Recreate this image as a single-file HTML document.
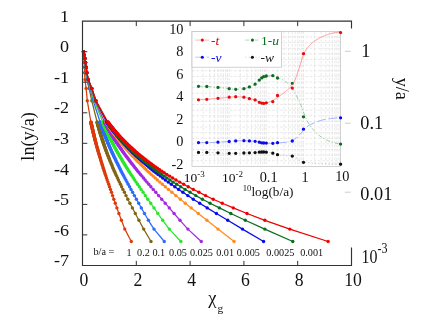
<!DOCTYPE html>
<html><head><meta charset="utf-8"><title>ln(y/a) vs chi_g</title>
<style>
html,body{margin:0;padding:0;background:#fff;}
body{width:436px;height:324px;overflow:hidden;font-family:"Liberation Serif",serif;}
svg{display:block;font-family:"Liberation Serif",serif;}
</style></head><body>
<svg width="436" height="324" viewBox="0 0 436 324">
<rect width="436" height="324" fill="#fff"/>
<g id="curves">
<path d="M83.5,51.7 L83.7,54.9 L84.0,58.5 L84.1,62.5 L84.4,67.3 L84.6,72.8 L85.0,79.6 L86.1,88.4 L87.3,100.8 L90.9,122.0 L90.9,122.3 L91.0,122.6 L91.1,122.9 L91.2,123.2 L91.2,123.6 L91.3,123.9 L91.4,124.2 L91.4,124.5 L91.5,124.9 L91.6,125.2 L91.7,125.6 L91.7,125.9 L91.8,126.2 L91.9,126.6 L92.0,127.0 L92.1,127.3 L92.1,127.7 L92.2,128.1 L92.3,128.4 L92.4,128.8 L92.5,129.2 L92.6,129.6 L92.7,130.0 L92.8,130.4 L92.8,130.8 L92.9,131.2 L93.0,131.6 L93.1,132.0 L93.2,132.5 L93.3,132.9 L93.5,133.3 L93.6,133.8 L93.7,134.2 L93.8,134.7 L93.9,135.2 L94.0,135.6 L94.1,136.1 L94.3,136.6 L94.4,137.1 L94.5,137.6 L94.6,138.1 L94.8,138.6 L94.9,139.2 L95.0,139.7 L95.2,140.3 L95.3,140.8 L95.5,141.4 L95.6,142.0 L95.8,142.6 L95.9,143.2 L96.1,143.8 L96.3,144.4 L96.5,145.1 L96.6,145.7 L96.8,146.4 L97.0,147.1 L97.2,147.8 L97.4,148.5 L97.6,149.2 L97.8,150.0 L98.0,150.8 L98.3,151.6 L98.5,152.4 L98.7,153.2 L99.0,154.1 L99.2,155.0 L99.5,155.9 L99.8,156.8 L100.1,157.8 L100.4,158.8 L100.7,159.8 L101.0,160.9 L101.4,162.0 L101.7,163.1 L102.1,164.3 L102.5,165.6 L102.9,166.9 L103.3,168.3 L103.8,169.7 L104.3,171.2 L104.8,172.7 L105.3,174.4 L105.9,176.1 L106.5,178.0 L107.2,180.0 L107.9,182.1 L108.7,184.3 L109.5,186.8 L110.5,189.4 L111.5,192.3 L112.6,195.6 L113.8,199.2 L115.3,203.2 L116.9,207.9 L118.9,213.5 L121.4,220.3 L124.8,229.1 L131.3,241.5" fill="none" stroke="#dc3c0a" stroke-width="1.25" stroke-linejoin="round"/>
<g fill="none" stroke="#dc3c0a" stroke-width="3.4" stroke-linecap="round">
<path d="M83.5,51.7h0"/><path d="M83.7,54.9h0"/><path d="M84.0,58.5h0"/><path d="M84.1,62.5h0"/><path d="M84.4,67.3h0"/><path d="M84.6,72.8h0"/><path d="M85.0,79.6h0"/><path d="M86.1,88.4h0"/><path d="M87.3,100.8h0"/><path d="M90.9,122.0h0"/><path d="M90.9,122.3h0"/><path d="M91.0,122.6h0"/><path d="M91.1,122.9h0"/><path d="M91.2,123.2h0"/><path d="M91.2,123.6h0"/><path d="M91.3,123.9h0"/><path d="M91.4,124.2h0"/><path d="M91.4,124.5h0"/><path d="M91.5,124.9h0"/><path d="M91.6,125.2h0"/><path d="M91.7,125.6h0"/><path d="M91.7,125.9h0"/><path d="M91.8,126.2h0"/><path d="M91.9,126.6h0"/><path d="M92.0,127.0h0"/><path d="M92.1,127.3h0"/><path d="M92.1,127.7h0"/><path d="M92.2,128.1h0"/><path d="M92.3,128.4h0"/><path d="M92.4,128.8h0"/><path d="M92.5,129.2h0"/><path d="M92.6,129.6h0"/><path d="M92.7,130.0h0"/><path d="M92.8,130.4h0"/><path d="M92.8,130.8h0"/><path d="M92.9,131.2h0"/><path d="M93.0,131.6h0"/><path d="M93.1,132.0h0"/><path d="M93.2,132.5h0"/><path d="M93.3,132.9h0"/><path d="M93.5,133.3h0"/><path d="M93.6,133.8h0"/><path d="M93.7,134.2h0"/><path d="M93.8,134.7h0"/><path d="M93.9,135.2h0"/><path d="M94.0,135.6h0"/><path d="M94.1,136.1h0"/><path d="M94.3,136.6h0"/><path d="M94.4,137.1h0"/><path d="M94.5,137.6h0"/><path d="M94.6,138.1h0"/><path d="M94.8,138.6h0"/><path d="M94.9,139.2h0"/><path d="M95.0,139.7h0"/><path d="M95.2,140.3h0"/><path d="M95.3,140.8h0"/><path d="M95.5,141.4h0"/><path d="M95.6,142.0h0"/><path d="M95.8,142.6h0"/><path d="M95.9,143.2h0"/><path d="M96.1,143.8h0"/><path d="M96.3,144.4h0"/><path d="M96.5,145.1h0"/><path d="M96.6,145.7h0"/><path d="M96.8,146.4h0"/><path d="M97.0,147.1h0"/><path d="M97.2,147.8h0"/><path d="M97.4,148.5h0"/><path d="M97.6,149.2h0"/><path d="M97.8,150.0h0"/><path d="M98.0,150.8h0"/><path d="M98.3,151.6h0"/><path d="M98.5,152.4h0"/><path d="M98.7,153.2h0"/><path d="M99.0,154.1h0"/><path d="M99.2,155.0h0"/><path d="M99.5,155.9h0"/><path d="M99.8,156.8h0"/><path d="M100.1,157.8h0"/><path d="M100.4,158.8h0"/><path d="M100.7,159.8h0"/><path d="M101.0,160.9h0"/><path d="M101.4,162.0h0"/><path d="M101.7,163.1h0"/><path d="M102.1,164.3h0"/><path d="M102.5,165.6h0"/><path d="M102.9,166.9h0"/><path d="M103.3,168.3h0"/><path d="M103.8,169.7h0"/><path d="M104.3,171.2h0"/><path d="M104.8,172.7h0"/><path d="M105.3,174.4h0"/><path d="M105.9,176.1h0"/><path d="M106.5,178.0h0"/><path d="M107.2,180.0h0"/><path d="M107.9,182.1h0"/><path d="M108.7,184.3h0"/><path d="M109.5,186.8h0"/><path d="M110.5,189.4h0"/><path d="M111.5,192.3h0"/><path d="M112.6,195.6h0"/><path d="M113.8,199.2h0"/><path d="M115.3,203.2h0"/><path d="M116.9,207.9h0"/><path d="M118.9,213.5h0"/><path d="M121.4,220.3h0"/><path d="M124.8,229.1h0"/><path d="M131.3,241.5h0"/>
</g>
<path d="M83.5,51.7 L84.0,54.9 L84.5,58.5 L84.9,62.5 L85.4,67.3 L85.8,72.8 L86.7,79.6 L89.1,88.4 L91.8,100.8 L97.1,122.0 L97.2,122.3 L97.3,122.6 L97.4,122.9 L97.5,123.2 L97.5,123.6 L97.6,123.9 L97.7,124.2 L97.8,124.5 L97.9,124.9 L98.0,125.2 L98.1,125.6 L98.2,125.9 L98.3,126.2 L98.4,126.6 L98.5,127.0 L98.6,127.3 L98.7,127.7 L98.8,128.1 L98.9,128.4 L99.0,128.8 L99.1,129.2 L99.2,129.6 L99.3,130.0 L99.4,130.4 L99.6,130.8 L99.7,131.2 L99.8,131.6 L99.9,132.0 L100.1,132.5 L100.2,132.9 L100.3,133.3 L100.5,133.8 L100.6,134.2 L100.7,134.7 L100.9,135.2 L101.0,135.6 L101.2,136.1 L101.3,136.6 L101.5,137.1 L101.6,137.6 L101.8,138.1 L102.0,138.6 L102.1,139.2 L102.3,139.7 L102.5,140.3 L102.7,140.8 L102.9,141.4 L103.1,142.0 L103.3,142.6 L103.5,143.2 L103.7,143.8 L103.9,144.4 L104.1,145.1 L104.3,145.7 L104.6,146.4 L104.8,147.1 L105.1,147.8 L105.3,148.5 L105.6,149.2 L105.9,150.0 L106.1,150.8 L106.4,151.6 L106.7,152.4 L107.0,153.2 L107.4,154.1 L107.7,155.0 L108.1,155.9 L108.4,156.8 L108.8,157.8 L109.2,158.8 L109.6,159.8 L110.0,160.9 L110.5,162.0 L111.0,163.1 L111.5,164.3 L112.0,165.6 L112.5,166.9 L113.1,168.3 L113.7,169.7 L114.4,171.2 L115.1,172.7 L115.8,174.4 L116.6,176.1 L117.5,178.0 L118.4,180.0 L119.4,182.1 L120.5,184.3 L121.6,186.8 L122.9,189.4 L124.4,192.3 L126.0,195.6 L127.8,199.2 L129.9,203.2 L132.4,207.9 L135.3,213.5 L138.9,220.3 L143.7,229.1 L151.0,241.5" fill="none" stroke="#836614" stroke-width="1.25" stroke-linejoin="round"/>
<g fill="none" stroke="#836614" stroke-width="3.4" stroke-linecap="round">
<path d="M83.5,51.7h0"/><path d="M84.0,54.9h0"/><path d="M84.5,58.5h0"/><path d="M84.9,62.5h0"/><path d="M85.4,67.3h0"/><path d="M85.8,72.8h0"/><path d="M86.7,79.6h0"/><path d="M89.1,88.4h0"/><path d="M91.8,100.8h0"/><path d="M97.1,122.0h0"/><path d="M97.2,122.3h0"/><path d="M97.3,122.6h0"/><path d="M97.4,122.9h0"/><path d="M97.5,123.2h0"/><path d="M97.5,123.6h0"/><path d="M97.6,123.9h0"/><path d="M97.7,124.2h0"/><path d="M97.8,124.5h0"/><path d="M97.9,124.9h0"/><path d="M98.0,125.2h0"/><path d="M98.1,125.6h0"/><path d="M98.2,125.9h0"/><path d="M98.3,126.2h0"/><path d="M98.4,126.6h0"/><path d="M98.5,127.0h0"/><path d="M98.6,127.3h0"/><path d="M98.7,127.7h0"/><path d="M98.8,128.1h0"/><path d="M98.9,128.4h0"/><path d="M99.0,128.8h0"/><path d="M99.1,129.2h0"/><path d="M99.2,129.6h0"/><path d="M99.3,130.0h0"/><path d="M99.4,130.4h0"/><path d="M99.6,130.8h0"/><path d="M99.7,131.2h0"/><path d="M99.8,131.6h0"/><path d="M99.9,132.0h0"/><path d="M100.1,132.5h0"/><path d="M100.2,132.9h0"/><path d="M100.3,133.3h0"/><path d="M100.5,133.8h0"/><path d="M100.6,134.2h0"/><path d="M100.7,134.7h0"/><path d="M100.9,135.2h0"/><path d="M101.0,135.6h0"/><path d="M101.2,136.1h0"/><path d="M101.3,136.6h0"/><path d="M101.5,137.1h0"/><path d="M101.6,137.6h0"/><path d="M101.8,138.1h0"/><path d="M102.0,138.6h0"/><path d="M102.1,139.2h0"/><path d="M102.3,139.7h0"/><path d="M102.5,140.3h0"/><path d="M102.7,140.8h0"/><path d="M102.9,141.4h0"/><path d="M103.1,142.0h0"/><path d="M103.3,142.6h0"/><path d="M103.5,143.2h0"/><path d="M103.7,143.8h0"/><path d="M103.9,144.4h0"/><path d="M104.1,145.1h0"/><path d="M104.3,145.7h0"/><path d="M104.6,146.4h0"/><path d="M104.8,147.1h0"/><path d="M105.1,147.8h0"/><path d="M105.3,148.5h0"/><path d="M105.6,149.2h0"/><path d="M105.9,150.0h0"/><path d="M106.1,150.8h0"/><path d="M106.4,151.6h0"/><path d="M106.7,152.4h0"/><path d="M107.0,153.2h0"/><path d="M107.4,154.1h0"/><path d="M107.7,155.0h0"/><path d="M108.1,155.9h0"/><path d="M108.4,156.8h0"/><path d="M108.8,157.8h0"/><path d="M109.2,158.8h0"/><path d="M109.6,159.8h0"/><path d="M110.0,160.9h0"/><path d="M110.5,162.0h0"/><path d="M111.0,163.1h0"/><path d="M111.5,164.3h0"/><path d="M112.0,165.6h0"/><path d="M112.5,166.9h0"/><path d="M113.1,168.3h0"/><path d="M113.7,169.7h0"/><path d="M114.4,171.2h0"/><path d="M115.1,172.7h0"/><path d="M115.8,174.4h0"/><path d="M116.6,176.1h0"/><path d="M117.5,178.0h0"/><path d="M118.4,180.0h0"/><path d="M119.4,182.1h0"/><path d="M120.5,184.3h0"/><path d="M121.6,186.8h0"/><path d="M122.9,189.4h0"/><path d="M124.4,192.3h0"/><path d="M126.0,195.6h0"/><path d="M127.8,199.2h0"/><path d="M129.9,203.2h0"/><path d="M132.4,207.9h0"/><path d="M135.3,213.5h0"/><path d="M138.9,220.3h0"/><path d="M143.7,229.1h0"/><path d="M151.0,241.5h0"/>
</g>
<path d="M83.5,51.7 L84.0,54.9 L84.7,58.5 L85.1,62.5 L85.7,67.3 L86.2,72.8 L87.2,79.6 L90.0,88.4 L93.2,100.8 L100.1,122.0 L100.2,122.3 L100.3,122.6 L100.4,122.9 L100.5,123.2 L100.6,123.6 L100.7,123.9 L100.8,124.2 L100.9,124.5 L101.0,124.9 L101.2,125.2 L101.3,125.6 L101.4,125.9 L101.5,126.2 L101.6,126.6 L101.8,127.0 L101.9,127.3 L102.0,127.7 L102.2,128.1 L102.3,128.4 L102.4,128.8 L102.6,129.2 L102.7,129.6 L102.9,130.0 L103.0,130.4 L103.2,130.8 L103.3,131.2 L103.5,131.6 L103.6,132.0 L103.8,132.5 L103.9,132.9 L104.1,133.3 L104.3,133.8 L104.5,134.2 L104.6,134.7 L104.8,135.2 L105.0,135.6 L105.2,136.1 L105.4,136.6 L105.6,137.1 L105.8,137.6 L106.0,138.1 L106.2,138.6 L106.4,139.2 L106.6,139.7 L106.8,140.3 L107.1,140.8 L107.3,141.4 L107.5,142.0 L107.8,142.6 L108.0,143.2 L108.3,143.8 L108.6,144.4 L108.8,145.1 L109.1,145.7 L109.4,146.4 L109.7,147.1 L110.0,147.8 L110.3,148.5 L110.7,149.2 L111.0,150.0 L111.3,150.8 L111.7,151.6 L112.1,152.4 L112.5,153.2 L112.8,154.1 L113.3,155.0 L113.7,155.9 L114.1,156.8 L114.6,157.8 L115.1,158.8 L115.6,159.8 L116.1,160.9 L116.6,162.0 L117.2,163.1 L117.8,164.3 L118.4,165.6 L119.1,166.9 L119.7,168.3 L120.5,169.7 L121.2,171.2 L122.0,172.7 L122.9,174.4 L123.8,176.1 L124.8,178.0 L125.9,180.0 L127.0,182.1 L128.2,184.3 L129.6,186.8 L131.0,189.4 L132.6,192.3 L134.4,195.6 L136.4,199.2 L138.7,203.2 L141.3,207.9 L144.5,213.5 L148.4,220.3 L154.0,229.1 L164.3,241.5" fill="none" stroke="#2a6cff" stroke-width="1.25" stroke-linejoin="round"/>
<g fill="none" stroke="#2a6cff" stroke-width="3.4" stroke-linecap="round">
<path d="M83.5,51.7h0"/><path d="M84.0,54.9h0"/><path d="M84.7,58.5h0"/><path d="M85.1,62.5h0"/><path d="M85.7,67.3h0"/><path d="M86.2,72.8h0"/><path d="M87.2,79.6h0"/><path d="M90.0,88.4h0"/><path d="M93.2,100.8h0"/><path d="M100.1,122.0h0"/><path d="M100.2,122.3h0"/><path d="M100.3,122.6h0"/><path d="M100.4,122.9h0"/><path d="M100.5,123.2h0"/><path d="M100.6,123.6h0"/><path d="M100.7,123.9h0"/><path d="M100.8,124.2h0"/><path d="M100.9,124.5h0"/><path d="M101.0,124.9h0"/><path d="M101.2,125.2h0"/><path d="M101.3,125.6h0"/><path d="M101.4,125.9h0"/><path d="M101.5,126.2h0"/><path d="M101.6,126.6h0"/><path d="M101.8,127.0h0"/><path d="M101.9,127.3h0"/><path d="M102.0,127.7h0"/><path d="M102.2,128.1h0"/><path d="M102.3,128.4h0"/><path d="M102.4,128.8h0"/><path d="M102.6,129.2h0"/><path d="M102.7,129.6h0"/><path d="M102.9,130.0h0"/><path d="M103.0,130.4h0"/><path d="M103.2,130.8h0"/><path d="M103.3,131.2h0"/><path d="M103.5,131.6h0"/><path d="M103.6,132.0h0"/><path d="M103.8,132.5h0"/><path d="M103.9,132.9h0"/><path d="M104.1,133.3h0"/><path d="M104.3,133.8h0"/><path d="M104.5,134.2h0"/><path d="M104.6,134.7h0"/><path d="M104.8,135.2h0"/><path d="M105.0,135.6h0"/><path d="M105.2,136.1h0"/><path d="M105.4,136.6h0"/><path d="M105.6,137.1h0"/><path d="M105.8,137.6h0"/><path d="M106.0,138.1h0"/><path d="M106.2,138.6h0"/><path d="M106.4,139.2h0"/><path d="M106.6,139.7h0"/><path d="M106.8,140.3h0"/><path d="M107.1,140.8h0"/><path d="M107.3,141.4h0"/><path d="M107.5,142.0h0"/><path d="M107.8,142.6h0"/><path d="M108.0,143.2h0"/><path d="M108.3,143.8h0"/><path d="M108.6,144.4h0"/><path d="M108.8,145.1h0"/><path d="M109.1,145.7h0"/><path d="M109.4,146.4h0"/><path d="M109.7,147.1h0"/><path d="M110.0,147.8h0"/><path d="M110.3,148.5h0"/><path d="M110.7,149.2h0"/><path d="M111.0,150.0h0"/><path d="M111.3,150.8h0"/><path d="M111.7,151.6h0"/><path d="M112.1,152.4h0"/><path d="M112.5,153.2h0"/><path d="M112.8,154.1h0"/><path d="M113.3,155.0h0"/><path d="M113.7,155.9h0"/><path d="M114.1,156.8h0"/><path d="M114.6,157.8h0"/><path d="M115.1,158.8h0"/><path d="M115.6,159.8h0"/><path d="M116.1,160.9h0"/><path d="M116.6,162.0h0"/><path d="M117.2,163.1h0"/><path d="M117.8,164.3h0"/><path d="M118.4,165.6h0"/><path d="M119.1,166.9h0"/><path d="M119.7,168.3h0"/><path d="M120.5,169.7h0"/><path d="M121.2,171.2h0"/><path d="M122.0,172.7h0"/><path d="M122.9,174.4h0"/><path d="M123.8,176.1h0"/><path d="M124.8,178.0h0"/><path d="M125.9,180.0h0"/><path d="M127.0,182.1h0"/><path d="M128.2,184.3h0"/><path d="M129.6,186.8h0"/><path d="M131.0,189.4h0"/><path d="M132.6,192.3h0"/><path d="M134.4,195.6h0"/><path d="M136.4,199.2h0"/><path d="M138.7,203.2h0"/><path d="M141.3,207.9h0"/><path d="M144.5,213.5h0"/><path d="M148.4,220.3h0"/><path d="M154.0,229.1h0"/><path d="M164.3,241.5h0"/>
</g>
<path d="M83.5,51.7 L84.1,54.9 L84.8,58.5 L85.3,62.5 L85.9,67.3 L86.5,72.8 L87.6,79.6 L90.7,88.4 L94.2,100.8 L102.8,122.0 L102.9,122.3 L103.0,122.6 L103.2,122.9 L103.3,123.2 L103.4,123.6 L103.6,123.9 L103.7,124.2 L103.8,124.5 L104.0,124.9 L104.1,125.2 L104.3,125.6 L104.4,125.9 L104.6,126.2 L104.7,126.6 L104.9,127.0 L105.0,127.3 L105.2,127.7 L105.4,128.1 L105.5,128.4 L105.7,128.8 L105.9,129.2 L106.0,129.6 L106.2,130.0 L106.4,130.4 L106.6,130.8 L106.8,131.2 L107.0,131.6 L107.2,132.0 L107.4,132.5 L107.6,132.9 L107.8,133.3 L108.0,133.8 L108.2,134.2 L108.4,134.7 L108.6,135.2 L108.9,135.6 L109.1,136.1 L109.3,136.6 L109.6,137.1 L109.8,137.6 L110.1,138.1 L110.3,138.6 L110.6,139.2 L110.8,139.7 L111.1,140.3 L111.4,140.8 L111.7,141.4 L112.0,142.0 L112.3,142.6 L112.6,143.2 L112.9,143.8 L113.3,144.4 L113.6,145.1 L113.9,145.7 L114.3,146.4 L114.7,147.1 L115.0,147.8 L115.4,148.5 L115.8,149.2 L116.2,150.0 L116.7,150.8 L117.1,151.6 L117.6,152.4 L118.0,153.2 L118.5,154.1 L119.0,155.0 L119.6,155.9 L120.1,156.8 L120.7,157.8 L121.3,158.8 L121.9,159.8 L122.5,160.9 L123.2,162.0 L123.9,163.1 L124.6,164.3 L125.4,165.6 L126.2,166.9 L127.1,168.3 L128.0,169.7 L128.9,171.2 L129.9,172.7 L131.0,174.4 L132.1,176.1 L133.4,178.0 L134.7,180.0 L136.1,182.1 L137.6,184.3 L139.3,186.8 L141.1,189.4 L143.1,192.3 L145.3,195.6 L147.8,199.2 L150.7,203.2 L154.0,207.9 L157.8,213.5 L162.7,220.3 L169.3,229.1 L180.9,241.5" fill="none" stroke="#28e628" stroke-width="1.25" stroke-linejoin="round"/>
<g fill="none" stroke="#28e628" stroke-width="3.4" stroke-linecap="round">
<path d="M83.5,51.7h0"/><path d="M84.1,54.9h0"/><path d="M84.8,58.5h0"/><path d="M85.3,62.5h0"/><path d="M85.9,67.3h0"/><path d="M86.5,72.8h0"/><path d="M87.6,79.6h0"/><path d="M90.7,88.4h0"/><path d="M94.2,100.8h0"/><path d="M102.8,122.0h0"/><path d="M102.9,122.3h0"/><path d="M103.0,122.6h0"/><path d="M103.2,122.9h0"/><path d="M103.3,123.2h0"/><path d="M103.4,123.6h0"/><path d="M103.6,123.9h0"/><path d="M103.7,124.2h0"/><path d="M103.8,124.5h0"/><path d="M104.0,124.9h0"/><path d="M104.1,125.2h0"/><path d="M104.3,125.6h0"/><path d="M104.4,125.9h0"/><path d="M104.6,126.2h0"/><path d="M104.7,126.6h0"/><path d="M104.9,127.0h0"/><path d="M105.0,127.3h0"/><path d="M105.2,127.7h0"/><path d="M105.4,128.1h0"/><path d="M105.5,128.4h0"/><path d="M105.7,128.8h0"/><path d="M105.9,129.2h0"/><path d="M106.0,129.6h0"/><path d="M106.2,130.0h0"/><path d="M106.4,130.4h0"/><path d="M106.6,130.8h0"/><path d="M106.8,131.2h0"/><path d="M107.0,131.6h0"/><path d="M107.2,132.0h0"/><path d="M107.4,132.5h0"/><path d="M107.6,132.9h0"/><path d="M107.8,133.3h0"/><path d="M108.0,133.8h0"/><path d="M108.2,134.2h0"/><path d="M108.4,134.7h0"/><path d="M108.6,135.2h0"/><path d="M108.9,135.6h0"/><path d="M109.1,136.1h0"/><path d="M109.3,136.6h0"/><path d="M109.6,137.1h0"/><path d="M109.8,137.6h0"/><path d="M110.1,138.1h0"/><path d="M110.3,138.6h0"/><path d="M110.6,139.2h0"/><path d="M110.8,139.7h0"/><path d="M111.1,140.3h0"/><path d="M111.4,140.8h0"/><path d="M111.7,141.4h0"/><path d="M112.0,142.0h0"/><path d="M112.3,142.6h0"/><path d="M112.6,143.2h0"/><path d="M112.9,143.8h0"/><path d="M113.3,144.4h0"/><path d="M113.6,145.1h0"/><path d="M113.9,145.7h0"/><path d="M114.3,146.4h0"/><path d="M114.7,147.1h0"/><path d="M115.0,147.8h0"/><path d="M115.4,148.5h0"/><path d="M115.8,149.2h0"/><path d="M116.2,150.0h0"/><path d="M116.7,150.8h0"/><path d="M117.1,151.6h0"/><path d="M117.6,152.4h0"/><path d="M118.0,153.2h0"/><path d="M118.5,154.1h0"/><path d="M119.0,155.0h0"/><path d="M119.6,155.9h0"/><path d="M120.1,156.8h0"/><path d="M120.7,157.8h0"/><path d="M121.3,158.8h0"/><path d="M121.9,159.8h0"/><path d="M122.5,160.9h0"/><path d="M123.2,162.0h0"/><path d="M123.9,163.1h0"/><path d="M124.6,164.3h0"/><path d="M125.4,165.6h0"/><path d="M126.2,166.9h0"/><path d="M127.1,168.3h0"/><path d="M128.0,169.7h0"/><path d="M128.9,171.2h0"/><path d="M129.9,172.7h0"/><path d="M131.0,174.4h0"/><path d="M132.1,176.1h0"/><path d="M133.4,178.0h0"/><path d="M134.7,180.0h0"/><path d="M136.1,182.1h0"/><path d="M137.6,184.3h0"/><path d="M139.3,186.8h0"/><path d="M141.1,189.4h0"/><path d="M143.1,192.3h0"/><path d="M145.3,195.6h0"/><path d="M147.8,199.2h0"/><path d="M150.7,203.2h0"/><path d="M154.0,207.9h0"/><path d="M157.8,213.5h0"/><path d="M162.7,220.3h0"/><path d="M169.3,229.1h0"/><path d="M180.9,241.5h0"/>
</g>
<path d="M83.5,51.7 L84.1,54.9 L84.9,58.5 L85.4,62.5 L86.1,67.3 L86.7,72.8 L87.9,79.6 L91.2,88.4 L95.0,100.8 L104.6,122.0 L104.8,122.3 L104.9,122.6 L105.1,122.9 L105.3,123.2 L105.4,123.6 L105.6,123.9 L105.8,124.2 L106.0,124.5 L106.1,124.9 L106.3,125.2 L106.5,125.6 L106.7,125.9 L106.9,126.2 L107.1,126.6 L107.3,127.0 L107.5,127.3 L107.7,127.7 L107.9,128.1 L108.1,128.4 L108.3,128.8 L108.5,129.2 L108.8,129.6 L109.0,130.0 L109.2,130.4 L109.4,130.8 L109.7,131.2 L109.9,131.6 L110.2,132.0 L110.4,132.5 L110.7,132.9 L110.9,133.3 L111.2,133.8 L111.5,134.2 L111.8,134.7 L112.0,135.2 L112.3,135.6 L112.6,136.1 L112.9,136.6 L113.2,137.1 L113.5,137.6 L113.9,138.1 L114.2,138.6 L114.5,139.2 L114.9,139.7 L115.2,140.3 L115.6,140.8 L115.9,141.4 L116.3,142.0 L116.7,142.6 L117.1,143.2 L117.5,143.8 L117.9,144.4 L118.4,145.1 L118.8,145.7 L119.2,146.4 L119.7,147.1 L120.2,147.8 L120.7,148.5 L121.2,149.2 L121.7,150.0 L122.3,150.8 L122.8,151.6 L123.4,152.4 L124.0,153.2 L124.6,154.1 L125.3,155.0 L125.9,155.9 L126.6,156.8 L127.4,157.8 L128.1,158.8 L128.9,159.8 L129.7,160.9 L130.6,162.0 L131.4,163.1 L132.4,164.3 L133.4,165.6 L134.4,166.9 L135.5,168.3 L136.6,169.7 L137.8,171.2 L139.1,172.7 L140.5,174.4 L141.9,176.1 L143.5,178.0 L145.1,180.0 L146.9,182.1 L148.8,184.3 L150.9,186.8 L153.2,189.4 L155.8,192.3 L158.6,195.6 L161.7,199.2 L165.2,203.2 L169.3,207.9 L174.1,213.5 L180.0,220.3 L187.9,229.1 L201.3,241.5" fill="none" stroke="#a428e0" stroke-width="1.25" stroke-linejoin="round"/>
<g fill="none" stroke="#a428e0" stroke-width="3.4" stroke-linecap="round">
<path d="M83.5,51.7h0"/><path d="M84.1,54.9h0"/><path d="M84.9,58.5h0"/><path d="M85.4,62.5h0"/><path d="M86.1,67.3h0"/><path d="M86.7,72.8h0"/><path d="M87.9,79.6h0"/><path d="M91.2,88.4h0"/><path d="M95.0,100.8h0"/><path d="M104.6,122.0h0"/><path d="M104.8,122.3h0"/><path d="M104.9,122.6h0"/><path d="M105.1,122.9h0"/><path d="M105.3,123.2h0"/><path d="M105.4,123.6h0"/><path d="M105.6,123.9h0"/><path d="M105.8,124.2h0"/><path d="M106.0,124.5h0"/><path d="M106.1,124.9h0"/><path d="M106.3,125.2h0"/><path d="M106.5,125.6h0"/><path d="M106.7,125.9h0"/><path d="M106.9,126.2h0"/><path d="M107.1,126.6h0"/><path d="M107.3,127.0h0"/><path d="M107.5,127.3h0"/><path d="M107.7,127.7h0"/><path d="M107.9,128.1h0"/><path d="M108.1,128.4h0"/><path d="M108.3,128.8h0"/><path d="M108.5,129.2h0"/><path d="M108.8,129.6h0"/><path d="M109.0,130.0h0"/><path d="M109.2,130.4h0"/><path d="M109.4,130.8h0"/><path d="M109.7,131.2h0"/><path d="M109.9,131.6h0"/><path d="M110.2,132.0h0"/><path d="M110.4,132.5h0"/><path d="M110.7,132.9h0"/><path d="M110.9,133.3h0"/><path d="M111.2,133.8h0"/><path d="M111.5,134.2h0"/><path d="M111.8,134.7h0"/><path d="M112.0,135.2h0"/><path d="M112.3,135.6h0"/><path d="M112.6,136.1h0"/><path d="M112.9,136.6h0"/><path d="M113.2,137.1h0"/><path d="M113.5,137.6h0"/><path d="M113.9,138.1h0"/><path d="M114.2,138.6h0"/><path d="M114.5,139.2h0"/><path d="M114.9,139.7h0"/><path d="M115.2,140.3h0"/><path d="M115.6,140.8h0"/><path d="M115.9,141.4h0"/><path d="M116.3,142.0h0"/><path d="M116.7,142.6h0"/><path d="M117.1,143.2h0"/><path d="M117.5,143.8h0"/><path d="M117.9,144.4h0"/><path d="M118.4,145.1h0"/><path d="M118.8,145.7h0"/><path d="M119.2,146.4h0"/><path d="M119.7,147.1h0"/><path d="M120.2,147.8h0"/><path d="M120.7,148.5h0"/><path d="M121.2,149.2h0"/><path d="M121.7,150.0h0"/><path d="M122.3,150.8h0"/><path d="M122.8,151.6h0"/><path d="M123.4,152.4h0"/><path d="M124.0,153.2h0"/><path d="M124.6,154.1h0"/><path d="M125.3,155.0h0"/><path d="M125.9,155.9h0"/><path d="M126.6,156.8h0"/><path d="M127.4,157.8h0"/><path d="M128.1,158.8h0"/><path d="M128.9,159.8h0"/><path d="M129.7,160.9h0"/><path d="M130.6,162.0h0"/><path d="M131.4,163.1h0"/><path d="M132.4,164.3h0"/><path d="M133.4,165.6h0"/><path d="M134.4,166.9h0"/><path d="M135.5,168.3h0"/><path d="M136.6,169.7h0"/><path d="M137.8,171.2h0"/><path d="M139.1,172.7h0"/><path d="M140.5,174.4h0"/><path d="M141.9,176.1h0"/><path d="M143.5,178.0h0"/><path d="M145.1,180.0h0"/><path d="M146.9,182.1h0"/><path d="M148.8,184.3h0"/><path d="M150.9,186.8h0"/><path d="M153.2,189.4h0"/><path d="M155.8,192.3h0"/><path d="M158.6,195.6h0"/><path d="M161.7,199.2h0"/><path d="M165.2,203.2h0"/><path d="M169.3,207.9h0"/><path d="M174.1,213.5h0"/><path d="M180.0,220.3h0"/><path d="M187.9,229.1h0"/><path d="M201.3,241.5h0"/>
</g>
<path d="M83.5,51.7 L84.2,54.9 L84.9,58.5 L85.5,62.5 L86.2,67.3 L86.9,72.8 L88.1,79.6 L91.6,88.4 L95.5,100.8 L106.2,122.0 L106.4,122.3 L106.6,122.6 L106.8,122.9 L107.0,123.2 L107.2,123.6 L107.4,123.9 L107.6,124.2 L107.9,124.5 L108.1,124.9 L108.3,125.2 L108.5,125.6 L108.7,125.9 L109.0,126.2 L109.2,126.6 L109.5,127.0 L109.7,127.3 L109.9,127.7 L110.2,128.1 L110.4,128.4 L110.7,128.8 L111.0,129.2 L111.2,129.6 L111.5,130.0 L111.8,130.4 L112.1,130.8 L112.4,131.2 L112.7,131.6 L113.0,132.0 L113.3,132.5 L113.6,132.9 L113.9,133.3 L114.2,133.8 L114.5,134.2 L114.9,134.7 L115.2,135.2 L115.6,135.6 L115.9,136.1 L116.3,136.6 L116.7,137.1 L117.1,137.6 L117.5,138.1 L117.9,138.6 L118.3,139.2 L118.7,139.7 L119.1,140.3 L119.6,140.8 L120.0,141.4 L120.5,142.0 L121.0,142.6 L121.4,143.2 L121.9,143.8 L122.5,144.4 L123.0,145.1 L123.5,145.7 L124.1,146.4 L124.7,147.1 L125.3,147.8 L125.9,148.5 L126.5,149.2 L127.2,150.0 L127.9,150.8 L128.6,151.6 L129.3,152.4 L130.0,153.2 L130.8,154.1 L131.6,155.0 L132.5,155.9 L133.4,156.8 L134.3,157.8 L135.2,158.8 L136.2,159.8 L137.2,160.9 L138.3,162.0 L139.5,163.1 L140.7,164.3 L141.9,165.6 L143.3,166.9 L144.7,168.3 L146.1,169.7 L147.7,171.2 L149.4,172.7 L151.2,174.4 L153.1,176.1 L155.2,178.0 L157.4,180.0 L159.8,182.1 L162.4,184.3 L165.3,186.8 L168.4,189.4 L171.9,192.3 L175.8,195.6 L180.3,199.2 L185.3,203.2 L191.2,207.9 L198.3,213.5 L206.9,220.3 L218.0,229.1 L234.1,241.5" fill="none" stroke="#ff8c1e" stroke-width="1.25" stroke-linejoin="round"/>
<g fill="none" stroke="#ff8c1e" stroke-width="3.4" stroke-linecap="round">
<path d="M83.5,51.7h0"/><path d="M84.2,54.9h0"/><path d="M84.9,58.5h0"/><path d="M85.5,62.5h0"/><path d="M86.2,67.3h0"/><path d="M86.9,72.8h0"/><path d="M88.1,79.6h0"/><path d="M91.6,88.4h0"/><path d="M95.5,100.8h0"/><path d="M106.2,122.0h0"/><path d="M106.4,122.3h0"/><path d="M106.6,122.6h0"/><path d="M106.8,122.9h0"/><path d="M107.0,123.2h0"/><path d="M107.2,123.6h0"/><path d="M107.4,123.9h0"/><path d="M107.6,124.2h0"/><path d="M107.9,124.5h0"/><path d="M108.1,124.9h0"/><path d="M108.3,125.2h0"/><path d="M108.5,125.6h0"/><path d="M108.7,125.9h0"/><path d="M109.0,126.2h0"/><path d="M109.2,126.6h0"/><path d="M109.5,127.0h0"/><path d="M109.7,127.3h0"/><path d="M109.9,127.7h0"/><path d="M110.2,128.1h0"/><path d="M110.4,128.4h0"/><path d="M110.7,128.8h0"/><path d="M111.0,129.2h0"/><path d="M111.2,129.6h0"/><path d="M111.5,130.0h0"/><path d="M111.8,130.4h0"/><path d="M112.1,130.8h0"/><path d="M112.4,131.2h0"/><path d="M112.7,131.6h0"/><path d="M113.0,132.0h0"/><path d="M113.3,132.5h0"/><path d="M113.6,132.9h0"/><path d="M113.9,133.3h0"/><path d="M114.2,133.8h0"/><path d="M114.5,134.2h0"/><path d="M114.9,134.7h0"/><path d="M115.2,135.2h0"/><path d="M115.6,135.6h0"/><path d="M115.9,136.1h0"/><path d="M116.3,136.6h0"/><path d="M116.7,137.1h0"/><path d="M117.1,137.6h0"/><path d="M117.5,138.1h0"/><path d="M117.9,138.6h0"/><path d="M118.3,139.2h0"/><path d="M118.7,139.7h0"/><path d="M119.1,140.3h0"/><path d="M119.6,140.8h0"/><path d="M120.0,141.4h0"/><path d="M120.5,142.0h0"/><path d="M121.0,142.6h0"/><path d="M121.4,143.2h0"/><path d="M121.9,143.8h0"/><path d="M122.5,144.4h0"/><path d="M123.0,145.1h0"/><path d="M123.5,145.7h0"/><path d="M124.1,146.4h0"/><path d="M124.7,147.1h0"/><path d="M125.3,147.8h0"/><path d="M125.9,148.5h0"/><path d="M126.5,149.2h0"/><path d="M127.2,150.0h0"/><path d="M127.9,150.8h0"/><path d="M128.6,151.6h0"/><path d="M129.3,152.4h0"/><path d="M130.0,153.2h0"/><path d="M130.8,154.1h0"/><path d="M131.6,155.0h0"/><path d="M132.5,155.9h0"/><path d="M133.4,156.8h0"/><path d="M134.3,157.8h0"/><path d="M135.2,158.8h0"/><path d="M136.2,159.8h0"/><path d="M137.2,160.9h0"/><path d="M138.3,162.0h0"/><path d="M139.5,163.1h0"/><path d="M140.7,164.3h0"/><path d="M141.9,165.6h0"/><path d="M143.3,166.9h0"/><path d="M144.7,168.3h0"/><path d="M146.1,169.7h0"/><path d="M147.7,171.2h0"/><path d="M149.4,172.7h0"/><path d="M151.2,174.4h0"/><path d="M153.1,176.1h0"/><path d="M155.2,178.0h0"/><path d="M157.4,180.0h0"/><path d="M159.8,182.1h0"/><path d="M162.4,184.3h0"/><path d="M165.3,186.8h0"/><path d="M168.4,189.4h0"/><path d="M171.9,192.3h0"/><path d="M175.8,195.6h0"/><path d="M180.3,199.2h0"/><path d="M185.3,203.2h0"/><path d="M191.2,207.9h0"/><path d="M198.3,213.5h0"/><path d="M206.9,220.3h0"/><path d="M218.0,229.1h0"/><path d="M234.1,241.5h0"/>
</g>
<path d="M83.5,51.7 L84.2,54.9 L85.0,58.5 L85.6,62.5 L86.3,67.3 L86.9,72.8 L88.2,79.6 L91.8,88.4 L95.8,100.8 L106.8,122.0 L107.0,122.3 L107.2,122.6 L107.4,122.9 L107.6,123.2 L107.9,123.6 L108.1,123.9 L108.3,124.2 L108.6,124.5 L108.8,124.9 L109.1,125.2 L109.3,125.6 L109.6,125.9 L109.8,126.2 L110.1,126.6 L110.3,127.0 L110.6,127.3 L110.9,127.7 L111.2,128.1 L111.4,128.4 L111.7,128.8 L112.0,129.2 L112.3,129.6 L112.6,130.0 L112.9,130.4 L113.2,130.8 L113.6,131.2 L113.9,131.6 L114.2,132.0 L114.6,132.5 L114.9,132.9 L115.3,133.3 L115.6,133.8 L116.0,134.2 L116.4,134.7 L116.7,135.2 L117.1,135.6 L117.5,136.1 L117.9,136.6 L118.4,137.1 L118.8,137.6 L119.2,138.1 L119.7,138.6 L120.1,139.2 L120.6,139.7 L121.1,140.3 L121.6,140.8 L122.1,141.4 L122.6,142.0 L123.2,142.6 L123.7,143.2 L124.3,143.8 L124.9,144.4 L125.5,145.1 L126.1,145.7 L126.7,146.4 L127.4,147.1 L128.0,147.8 L128.7,148.5 L129.5,149.2 L130.2,150.0 L131.0,150.8 L131.8,151.6 L132.6,152.4 L133.4,153.2 L134.3,154.1 L135.3,155.0 L136.2,155.9 L137.2,156.8 L138.3,157.8 L139.4,158.8 L140.5,159.8 L141.7,160.9 L143.0,162.0 L144.3,163.1 L145.7,164.3 L147.1,165.6 L148.7,166.9 L150.3,168.3 L152.0,169.7 L153.9,171.2 L155.8,172.7 L158.0,174.4 L160.2,176.1 L162.7,178.0 L165.3,180.0 L168.2,182.1 L171.3,184.3 L174.8,186.8 L178.6,189.4 L182.9,192.3 L187.8,195.6 L193.3,199.2 L199.7,203.2 L207.2,207.9 L216.4,213.5 L227.7,220.3 L242.5,229.1 L263.6,241.5" fill="none" stroke="#0a0aee" stroke-width="1.25" stroke-linejoin="round"/>
<g fill="none" stroke="#0a0aee" stroke-width="3.4" stroke-linecap="round">
<path d="M83.5,51.7h0"/><path d="M84.2,54.9h0"/><path d="M85.0,58.5h0"/><path d="M85.6,62.5h0"/><path d="M86.3,67.3h0"/><path d="M86.9,72.8h0"/><path d="M88.2,79.6h0"/><path d="M91.8,88.4h0"/><path d="M95.8,100.8h0"/><path d="M106.8,122.0h0"/><path d="M107.0,122.3h0"/><path d="M107.2,122.6h0"/><path d="M107.4,122.9h0"/><path d="M107.6,123.2h0"/><path d="M107.9,123.6h0"/><path d="M108.1,123.9h0"/><path d="M108.3,124.2h0"/><path d="M108.6,124.5h0"/><path d="M108.8,124.9h0"/><path d="M109.1,125.2h0"/><path d="M109.3,125.6h0"/><path d="M109.6,125.9h0"/><path d="M109.8,126.2h0"/><path d="M110.1,126.6h0"/><path d="M110.3,127.0h0"/><path d="M110.6,127.3h0"/><path d="M110.9,127.7h0"/><path d="M111.2,128.1h0"/><path d="M111.4,128.4h0"/><path d="M111.7,128.8h0"/><path d="M112.0,129.2h0"/><path d="M112.3,129.6h0"/><path d="M112.6,130.0h0"/><path d="M112.9,130.4h0"/><path d="M113.2,130.8h0"/><path d="M113.6,131.2h0"/><path d="M113.9,131.6h0"/><path d="M114.2,132.0h0"/><path d="M114.6,132.5h0"/><path d="M114.9,132.9h0"/><path d="M115.3,133.3h0"/><path d="M115.6,133.8h0"/><path d="M116.0,134.2h0"/><path d="M116.4,134.7h0"/><path d="M116.7,135.2h0"/><path d="M117.1,135.6h0"/><path d="M117.5,136.1h0"/><path d="M117.9,136.6h0"/><path d="M118.4,137.1h0"/><path d="M118.8,137.6h0"/><path d="M119.2,138.1h0"/><path d="M119.7,138.6h0"/><path d="M120.1,139.2h0"/><path d="M120.6,139.7h0"/><path d="M121.1,140.3h0"/><path d="M121.6,140.8h0"/><path d="M122.1,141.4h0"/><path d="M122.6,142.0h0"/><path d="M123.2,142.6h0"/><path d="M123.7,143.2h0"/><path d="M124.3,143.8h0"/><path d="M124.9,144.4h0"/><path d="M125.5,145.1h0"/><path d="M126.1,145.7h0"/><path d="M126.7,146.4h0"/><path d="M127.4,147.1h0"/><path d="M128.0,147.8h0"/><path d="M128.7,148.5h0"/><path d="M129.5,149.2h0"/><path d="M130.2,150.0h0"/><path d="M131.0,150.8h0"/><path d="M131.8,151.6h0"/><path d="M132.6,152.4h0"/><path d="M133.4,153.2h0"/><path d="M134.3,154.1h0"/><path d="M135.3,155.0h0"/><path d="M136.2,155.9h0"/><path d="M137.2,156.8h0"/><path d="M138.3,157.8h0"/><path d="M139.4,158.8h0"/><path d="M140.5,159.8h0"/><path d="M141.7,160.9h0"/><path d="M143.0,162.0h0"/><path d="M144.3,163.1h0"/><path d="M145.7,164.3h0"/><path d="M147.1,165.6h0"/><path d="M148.7,166.9h0"/><path d="M150.3,168.3h0"/><path d="M152.0,169.7h0"/><path d="M153.9,171.2h0"/><path d="M155.8,172.7h0"/><path d="M158.0,174.4h0"/><path d="M160.2,176.1h0"/><path d="M162.7,178.0h0"/><path d="M165.3,180.0h0"/><path d="M168.2,182.1h0"/><path d="M171.3,184.3h0"/><path d="M174.8,186.8h0"/><path d="M178.6,189.4h0"/><path d="M182.9,192.3h0"/><path d="M187.8,195.6h0"/><path d="M193.3,199.2h0"/><path d="M199.7,203.2h0"/><path d="M207.2,207.9h0"/><path d="M216.4,213.5h0"/><path d="M227.7,220.3h0"/><path d="M242.5,229.1h0"/><path d="M263.6,241.5h0"/>
</g>
<path d="M83.5,51.7 L84.2,54.9 L85.0,58.5 L85.6,62.5 L86.3,67.3 L87.0,72.8 L88.3,79.6 L91.8,88.4 L95.9,100.8 L107.3,122.0 L107.5,122.3 L107.7,122.6 L108.0,122.9 L108.2,123.2 L108.4,123.6 L108.6,123.9 L108.9,124.2 L109.1,124.5 L109.4,124.9 L109.6,125.2 L109.9,125.6 L110.1,125.9 L110.4,126.2 L110.7,126.6 L110.9,127.0 L111.2,127.3 L111.5,127.7 L111.8,128.1 L112.1,128.4 L112.3,128.8 L112.6,129.2 L113.0,129.6 L113.3,130.0 L113.6,130.4 L113.9,130.8 L114.2,131.2 L114.6,131.6 L114.9,132.0 L115.3,132.5 L115.6,132.9 L116.0,133.3 L116.4,133.8 L116.7,134.2 L117.1,134.7 L117.5,135.2 L117.9,135.6 L118.3,136.1 L118.8,136.6 L119.2,137.1 L119.6,137.6 L120.1,138.1 L120.6,138.6 L121.0,139.2 L121.5,139.7 L122.0,140.3 L122.5,140.8 L123.1,141.4 L123.6,142.0 L124.2,142.6 L124.8,143.2 L125.3,143.8 L126.0,144.4 L126.6,145.1 L127.2,145.7 L127.9,146.4 L128.6,147.1 L129.3,147.8 L130.0,148.5 L130.8,149.2 L131.6,150.0 L132.4,150.8 L133.2,151.6 L134.1,152.4 L135.0,153.2 L136.0,154.1 L136.9,155.0 L138.0,155.9 L139.0,156.8 L140.2,157.8 L141.3,158.8 L142.6,159.8 L143.9,160.9 L145.2,162.0 L146.6,163.1 L148.1,164.3 L149.7,165.6 L151.4,166.9 L153.2,168.3 L155.1,169.7 L157.1,171.2 L159.3,172.7 L161.6,174.4 L164.2,176.1 L166.9,178.0 L169.9,180.0 L173.1,182.1 L176.7,184.3 L180.7,186.8 L185.1,189.4 L190.1,192.3 L195.8,195.6 L202.4,199.2 L210.1,203.2 L219.4,207.9 L230.8,213.5 L245.3,220.3 L264.8,229.1 L292.8,241.5" fill="none" stroke="#0a6e1e" stroke-width="1.25" stroke-linejoin="round"/>
<g fill="none" stroke="#0a6e1e" stroke-width="3.4" stroke-linecap="round">
<path d="M83.5,51.7h0"/><path d="M84.2,54.9h0"/><path d="M85.0,58.5h0"/><path d="M85.6,62.5h0"/><path d="M86.3,67.3h0"/><path d="M87.0,72.8h0"/><path d="M88.3,79.6h0"/><path d="M91.8,88.4h0"/><path d="M95.9,100.8h0"/><path d="M107.3,122.0h0"/><path d="M107.5,122.3h0"/><path d="M107.7,122.6h0"/><path d="M108.0,122.9h0"/><path d="M108.2,123.2h0"/><path d="M108.4,123.6h0"/><path d="M108.6,123.9h0"/><path d="M108.9,124.2h0"/><path d="M109.1,124.5h0"/><path d="M109.4,124.9h0"/><path d="M109.6,125.2h0"/><path d="M109.9,125.6h0"/><path d="M110.1,125.9h0"/><path d="M110.4,126.2h0"/><path d="M110.7,126.6h0"/><path d="M110.9,127.0h0"/><path d="M111.2,127.3h0"/><path d="M111.5,127.7h0"/><path d="M111.8,128.1h0"/><path d="M112.1,128.4h0"/><path d="M112.3,128.8h0"/><path d="M112.6,129.2h0"/><path d="M113.0,129.6h0"/><path d="M113.3,130.0h0"/><path d="M113.6,130.4h0"/><path d="M113.9,130.8h0"/><path d="M114.2,131.2h0"/><path d="M114.6,131.6h0"/><path d="M114.9,132.0h0"/><path d="M115.3,132.5h0"/><path d="M115.6,132.9h0"/><path d="M116.0,133.3h0"/><path d="M116.4,133.8h0"/><path d="M116.7,134.2h0"/><path d="M117.1,134.7h0"/><path d="M117.5,135.2h0"/><path d="M117.9,135.6h0"/><path d="M118.3,136.1h0"/><path d="M118.8,136.6h0"/><path d="M119.2,137.1h0"/><path d="M119.6,137.6h0"/><path d="M120.1,138.1h0"/><path d="M120.6,138.6h0"/><path d="M121.0,139.2h0"/><path d="M121.5,139.7h0"/><path d="M122.0,140.3h0"/><path d="M122.5,140.8h0"/><path d="M123.1,141.4h0"/><path d="M123.6,142.0h0"/><path d="M124.2,142.6h0"/><path d="M124.8,143.2h0"/><path d="M125.3,143.8h0"/><path d="M126.0,144.4h0"/><path d="M126.6,145.1h0"/><path d="M127.2,145.7h0"/><path d="M127.9,146.4h0"/><path d="M128.6,147.1h0"/><path d="M129.3,147.8h0"/><path d="M130.0,148.5h0"/><path d="M130.8,149.2h0"/><path d="M131.6,150.0h0"/><path d="M132.4,150.8h0"/><path d="M133.2,151.6h0"/><path d="M134.1,152.4h0"/><path d="M135.0,153.2h0"/><path d="M136.0,154.1h0"/><path d="M136.9,155.0h0"/><path d="M138.0,155.9h0"/><path d="M139.0,156.8h0"/><path d="M140.2,157.8h0"/><path d="M141.3,158.8h0"/><path d="M142.6,159.8h0"/><path d="M143.9,160.9h0"/><path d="M145.2,162.0h0"/><path d="M146.6,163.1h0"/><path d="M148.1,164.3h0"/><path d="M149.7,165.6h0"/><path d="M151.4,166.9h0"/><path d="M153.2,168.3h0"/><path d="M155.1,169.7h0"/><path d="M157.1,171.2h0"/><path d="M159.3,172.7h0"/><path d="M161.6,174.4h0"/><path d="M164.2,176.1h0"/><path d="M166.9,178.0h0"/><path d="M169.9,180.0h0"/><path d="M173.1,182.1h0"/><path d="M176.7,184.3h0"/><path d="M180.7,186.8h0"/><path d="M185.1,189.4h0"/><path d="M190.1,192.3h0"/><path d="M195.8,195.6h0"/><path d="M202.4,199.2h0"/><path d="M210.1,203.2h0"/><path d="M219.4,207.9h0"/><path d="M230.8,213.5h0"/><path d="M245.3,220.3h0"/><path d="M264.8,229.1h0"/><path d="M292.8,241.5h0"/>
</g>
<path d="M83.5,51.7 L84.2,54.9 L85.0,58.5 L85.6,62.5 L86.3,67.3 L87.0,72.8 L88.3,79.6 L91.9,88.4 L96.0,100.8 L107.8,122.0 L108.0,122.3 L108.3,122.6 L108.5,122.9 L108.8,123.2 L109.0,123.6 L109.2,123.9 L109.5,124.2 L109.8,124.5 L110.0,124.9 L110.3,125.2 L110.6,125.6 L110.8,125.9 L111.1,126.2 L111.4,126.6 L111.7,127.0 L112.0,127.3 L112.3,127.7 L112.6,128.1 L112.9,128.4 L113.2,128.8 L113.5,129.2 L113.8,129.6 L114.2,130.0 L114.5,130.4 L114.9,130.8 L115.2,131.2 L115.6,131.6 L115.9,132.0 L116.3,132.5 L116.7,132.9 L117.1,133.3 L117.5,133.8 L117.9,134.2 L118.3,134.7 L118.7,135.2 L119.2,135.6 L119.6,136.1 L120.1,136.6 L120.5,137.1 L121.0,137.6 L121.5,138.1 L122.0,138.6 L122.5,139.2 L123.0,139.7 L123.6,140.3 L124.1,140.8 L124.7,141.4 L125.3,142.0 L125.9,142.6 L126.5,143.2 L127.1,143.8 L127.8,144.4 L128.5,145.1 L129.2,145.7 L129.9,146.4 L130.6,147.1 L131.4,147.8 L132.2,148.5 L133.0,149.2 L133.9,150.0 L134.7,150.8 L135.7,151.6 L136.6,152.4 L137.6,153.2 L138.6,154.1 L139.7,155.0 L140.8,155.9 L142.0,156.8 L143.2,157.8 L144.5,158.8 L145.8,159.8 L147.2,160.9 L148.7,162.0 L150.3,163.1 L151.9,164.3 L153.7,165.6 L155.5,166.9 L157.5,168.3 L159.6,169.7 L161.8,171.2 L164.2,172.7 L166.8,174.4 L169.7,176.1 L172.7,178.0 L176.0,180.0 L179.7,182.1 L183.7,184.3 L188.2,186.8 L193.3,189.4 L199.0,192.3 L205.6,195.6 L213.2,199.2 L222.3,203.2 L233.3,207.9 L247.0,213.5 L264.9,220.3 L289.8,229.1 L328.1,241.5" fill="none" stroke="#ee0000" stroke-width="1.25" stroke-linejoin="round"/>
<g fill="none" stroke="#ee0000" stroke-width="3.4" stroke-linecap="round">
<path d="M83.5,51.7h0"/><path d="M84.2,54.9h0"/><path d="M85.0,58.5h0"/><path d="M85.6,62.5h0"/><path d="M86.3,67.3h0"/><path d="M87.0,72.8h0"/><path d="M88.3,79.6h0"/><path d="M91.9,88.4h0"/><path d="M96.0,100.8h0"/><path d="M107.8,122.0h0"/><path d="M108.0,122.3h0"/><path d="M108.3,122.6h0"/><path d="M108.5,122.9h0"/><path d="M108.8,123.2h0"/><path d="M109.0,123.6h0"/><path d="M109.2,123.9h0"/><path d="M109.5,124.2h0"/><path d="M109.8,124.5h0"/><path d="M110.0,124.9h0"/><path d="M110.3,125.2h0"/><path d="M110.6,125.6h0"/><path d="M110.8,125.9h0"/><path d="M111.1,126.2h0"/><path d="M111.4,126.6h0"/><path d="M111.7,127.0h0"/><path d="M112.0,127.3h0"/><path d="M112.3,127.7h0"/><path d="M112.6,128.1h0"/><path d="M112.9,128.4h0"/><path d="M113.2,128.8h0"/><path d="M113.5,129.2h0"/><path d="M113.8,129.6h0"/><path d="M114.2,130.0h0"/><path d="M114.5,130.4h0"/><path d="M114.9,130.8h0"/><path d="M115.2,131.2h0"/><path d="M115.6,131.6h0"/><path d="M115.9,132.0h0"/><path d="M116.3,132.5h0"/><path d="M116.7,132.9h0"/><path d="M117.1,133.3h0"/><path d="M117.5,133.8h0"/><path d="M117.9,134.2h0"/><path d="M118.3,134.7h0"/><path d="M118.7,135.2h0"/><path d="M119.2,135.6h0"/><path d="M119.6,136.1h0"/><path d="M120.1,136.6h0"/><path d="M120.5,137.1h0"/><path d="M121.0,137.6h0"/><path d="M121.5,138.1h0"/><path d="M122.0,138.6h0"/><path d="M122.5,139.2h0"/><path d="M123.0,139.7h0"/><path d="M123.6,140.3h0"/><path d="M124.1,140.8h0"/><path d="M124.7,141.4h0"/><path d="M125.3,142.0h0"/><path d="M125.9,142.6h0"/><path d="M126.5,143.2h0"/><path d="M127.1,143.8h0"/><path d="M127.8,144.4h0"/><path d="M128.5,145.1h0"/><path d="M129.2,145.7h0"/><path d="M129.9,146.4h0"/><path d="M130.6,147.1h0"/><path d="M131.4,147.8h0"/><path d="M132.2,148.5h0"/><path d="M133.0,149.2h0"/><path d="M133.9,150.0h0"/><path d="M134.7,150.8h0"/><path d="M135.7,151.6h0"/><path d="M136.6,152.4h0"/><path d="M137.6,153.2h0"/><path d="M138.6,154.1h0"/><path d="M139.7,155.0h0"/><path d="M140.8,155.9h0"/><path d="M142.0,156.8h0"/><path d="M143.2,157.8h0"/><path d="M144.5,158.8h0"/><path d="M145.8,159.8h0"/><path d="M147.2,160.9h0"/><path d="M148.7,162.0h0"/><path d="M150.3,163.1h0"/><path d="M151.9,164.3h0"/><path d="M153.7,165.6h0"/><path d="M155.5,166.9h0"/><path d="M157.5,168.3h0"/><path d="M159.6,169.7h0"/><path d="M161.8,171.2h0"/><path d="M164.2,172.7h0"/><path d="M166.8,174.4h0"/><path d="M169.7,176.1h0"/><path d="M172.7,178.0h0"/><path d="M176.0,180.0h0"/><path d="M179.7,182.1h0"/><path d="M183.7,184.3h0"/><path d="M188.2,186.8h0"/><path d="M193.3,189.4h0"/><path d="M199.0,192.3h0"/><path d="M205.6,195.6h0"/><path d="M213.2,199.2h0"/><path d="M222.3,203.2h0"/><path d="M233.3,207.9h0"/><path d="M247.0,213.5h0"/><path d="M264.9,220.3h0"/><path d="M289.8,229.1h0"/><path d="M328.1,241.5h0"/>
</g>
</g>
<g id="axes">
<path d="M82.5,265.5 V21.1 H351.5 V27.8 M82.5,265.5 H351.5 V248" fill="none" stroke="#333" stroke-width="1.15" stroke-linecap="square"/>
<path d="M82.5,234.9h4.8M82.5,204.4h4.8M82.5,173.8h4.8M82.5,143.3h4.8M82.5,112.8h4.8M82.5,82.2h4.8M82.5,51.7h4.8M136.3,21.1v5M136.3,265.5v-4.6M190.1,21.1v5M190.1,265.5v-4.6M243.9,21.1v5M243.9,265.5v-4.6M297.7,21.1v5M297.7,265.5v-4.6" fill="none" stroke="#333" stroke-width="1"/>
</g>
<g id="inset" opacity="0.999">
<rect x="192.0" y="31.4" width="148.6" height="135.0" fill="#fff" stroke="none"/>
<path d="M192.0,37.02H340.6M192.0,42.65H340.6M192.0,48.27H340.6M192.0,53.90H340.6M192.0,59.52H340.6M192.0,65.15H340.6M192.0,70.78H340.6M192.0,76.40H340.6M192.0,82.03H340.6M192.0,87.65H340.6M192.0,93.28H340.6M192.0,98.90H340.6M192.0,104.53H340.6M192.0,110.15H340.6M192.0,115.78H340.6M192.0,121.40H340.6M192.0,127.03H340.6M192.0,132.65H340.6M192.0,138.28H340.6M192.0,143.90H340.6M192.0,149.53H340.6M192.0,155.15H340.6M192.0,160.78H340.6M203.18,31.4V166.4M209.73,31.4V166.4M214.37,31.4V166.4M217.97,31.4V166.4M220.91,31.4V166.4M223.40,31.4V166.4M225.55,31.4V166.4M227.45,31.4V166.4M229.15,31.4V166.4M240.33,31.4V166.4M246.88,31.4V166.4M251.52,31.4V166.4M255.12,31.4V166.4M258.06,31.4V166.4M260.55,31.4V166.4M262.70,31.4V166.4M264.60,31.4V166.4M266.30,31.4V166.4M277.48,31.4V166.4M284.03,31.4V166.4M288.67,31.4V166.4M292.27,31.4V166.4M295.21,31.4V166.4M297.70,31.4V166.4M299.85,31.4V166.4M301.75,31.4V166.4M303.45,31.4V166.4M314.63,31.4V166.4M321.18,31.4V166.4M325.82,31.4V166.4M329.42,31.4V166.4M332.36,31.4V166.4M334.85,31.4V166.4M337.00,31.4V166.4M338.90,31.4V166.4" fill="none" stroke="#d6d6d6" stroke-width="0.6" stroke-dasharray="2.6 1.6"/>
<rect x="192.0" y="31.4" width="148.6" height="135.0" fill="none" stroke="#c2c2c2" stroke-width="0.75"/>
<path d="M198.5,152.4 L199.1,152.4 L199.6,152.4 L200.2,152.4 L200.7,152.4 L201.3,152.4 L201.8,152.4 L202.4,152.4 L202.9,152.4 L203.5,152.4 L204.0,152.4 L204.6,152.4 L205.1,152.4 L205.7,152.4 L206.2,152.4 L206.8,152.4 L207.3,152.4 L207.9,152.4 L208.4,152.4 L209.0,152.4 L209.5,152.4 L210.1,152.5 L210.6,152.5 L211.2,152.5 L211.7,152.5 L212.3,152.5 L212.8,152.6 L213.4,152.6 L213.9,152.6 L214.4,152.6 L215.0,152.7 L215.5,152.7 L216.1,152.7 L216.6,152.7 L217.2,152.8 L217.7,152.8 L218.3,152.8 L218.8,152.8 L219.4,152.9 L219.9,152.9 L220.5,152.9 L221.0,153.0 L221.6,153.0 L222.1,153.0 L222.7,153.1 L223.2,153.1 L223.8,153.1 L224.3,153.1 L224.9,153.2 L225.4,153.2 L226.0,153.2 L226.5,153.2 L227.1,153.3 L227.6,153.3 L228.2,153.3 L228.7,153.3 L229.3,153.3 L229.8,153.3 L230.4,153.3 L230.9,153.3 L231.5,153.3 L232.0,153.3 L232.5,153.3 L233.1,153.3 L233.6,153.3 L234.2,153.3 L234.7,153.3 L235.3,153.3 L235.8,153.3 L236.4,153.3 L236.9,153.3 L237.5,153.3 L238.0,153.3 L238.6,153.2 L239.1,153.2 L239.7,153.2 L240.2,153.2 L240.8,153.1 L241.3,153.1 L241.9,153.1 L242.4,153.1 L243.0,153.0 L243.5,153.0 L244.1,153.0 L244.6,153.0 L245.2,153.0 L245.7,152.9 L246.3,152.9 L246.8,152.9 L247.4,152.9 L247.9,152.9 L248.5,152.8 L249.0,152.8 L249.6,152.8 L250.1,152.8 L250.6,152.8 L251.2,152.7 L251.7,152.7 L252.3,152.7 L252.8,152.7 L253.4,152.7 L253.9,152.7 L254.5,152.6 L255.0,152.6 L255.6,152.6 L256.1,152.5 L256.7,152.5 L257.2,152.4 L257.8,152.4 L258.3,152.3 L258.9,152.2 L259.4,152.2 L260.0,152.1 L260.5,152.1 L261.1,152.0 L261.6,152.0 L262.2,152.0 L262.7,152.0 L263.3,152.0 L263.8,152.0 L264.4,152.0 L264.9,152.1 L265.5,152.1 L266.0,152.2 L266.6,152.2 L267.1,152.3 L267.7,152.3 L268.2,152.4 L268.7,152.5 L269.3,152.6 L269.8,152.6 L270.4,152.7 L270.9,152.8 L271.5,152.9 L272.0,153.0 L272.6,153.1 L273.1,153.3 L273.7,153.4 L274.2,153.6 L274.8,153.8 L275.3,154.0 L275.9,154.3 L276.4,154.4 L277.0,154.6 L277.5,154.7 L278.1,154.8 L278.6,154.9 L279.2,154.9 L279.7,155.0 L280.3,155.1 L280.8,155.1 L281.4,155.2 L281.9,155.2 L282.5,155.2 L283.0,155.3 L283.6,155.3 L284.1,155.3 L284.7,155.4 L285.2,155.4 L285.8,155.4 L286.3,155.5 L286.8,155.5 L287.4,155.6 L287.9,155.6 L288.5,155.6 L289.0,155.7 L289.6,155.7 L290.1,155.8 L290.7,155.9 L291.2,155.9 L291.8,156.0 L292.3,156.1 L292.9,156.2 L293.4,156.4 L294.0,156.7 L294.5,157.0 L295.1,157.3 L295.6,157.6 L296.2,158.0 L296.7,158.4 L297.3,158.8 L297.8,159.2 L298.4,159.7 L298.9,160.1 L299.5,160.5 L300.0,160.8 L300.6,161.2 L301.1,161.5 L301.7,161.8 L302.2,162.0 L302.8,162.2 L303.3,162.3 L303.9,162.3 L304.4,162.4 L304.9,162.5 L305.5,162.5 L306.0,162.6 L306.6,162.6 L307.1,162.7 L307.7,162.7 L308.2,162.8 L308.8,162.8 L309.3,162.9 L309.9,162.9 L310.4,163.0 L311.0,163.0 L311.5,163.1 L312.1,163.1 L312.6,163.2 L313.2,163.2 L313.7,163.2 L314.3,163.3 L314.8,163.3 L315.4,163.4 L315.9,163.4 L316.5,163.4 L317.0,163.5 L317.6,163.5 L318.1,163.5 L318.7,163.6 L319.2,163.6 L319.8,163.6 L320.3,163.7 L320.9,163.7 L321.4,163.7 L322.0,163.8 L322.5,163.8 L323.0,163.8 L323.6,163.8 L324.1,163.9 L324.7,163.9 L325.2,163.9 L325.8,163.9 L326.3,163.9 L326.9,164.0 L327.4,164.0 L328.0,164.0 L328.5,164.0 L329.1,164.0 L329.6,164.1 L330.2,164.1 L330.7,164.1 L331.3,164.1 L331.8,164.1 L332.4,164.1 L332.9,164.1 L333.5,164.1 L334.0,164.1 L334.6,164.2 L335.1,164.2 L335.7,164.2 L336.2,164.2 L336.8,164.2 L337.3,164.2 L337.9,164.2 L338.4,164.2 L339.0,164.2 L339.5,164.2 L340.1,164.2 L340.6,164.2" fill="none" stroke="#9a9a9a" stroke-width="0.65" stroke-dasharray="1.2 2.2"/>
<path d="M198.5,152.4h0M206.8,152.4h0M218.0,152.8h0M229.2,153.3h0M235.7,153.3h0M243.9,153.0h0M249.4,152.8h0M255.1,152.6h0M259.3,152.2h0M261.7,152.0h0M263.7,152.0h0M266.3,152.2h0M272.8,153.2h0M277.5,154.7h0M292.3,156.1h0M303.5,162.3h0M340.6,164.2h0" fill="none" stroke="#101010" stroke-width="3.3" stroke-linecap="round"/>
<path d="M198.5,142.6 L199.0,142.6 L199.6,142.6 L200.1,142.6 L200.7,142.6 L201.2,142.6 L201.8,142.6 L202.3,142.6 L202.9,142.6 L203.4,142.6 L204.0,142.6 L204.5,142.6 L205.1,142.6 L205.6,142.6 L206.2,142.6 L206.7,142.6 L207.3,142.6 L207.8,142.6 L208.4,142.6 L208.9,142.6 L209.5,142.6 L210.0,142.5 L210.6,142.5 L211.1,142.5 L211.7,142.5 L212.2,142.5 L212.8,142.4 L213.3,142.4 L213.9,142.4 L214.4,142.4 L215.0,142.3 L215.5,142.3 L216.1,142.3 L216.6,142.3 L217.2,142.2 L217.7,142.2 L218.3,142.2 L218.8,142.2 L219.3,142.1 L219.9,142.1 L220.4,142.1 L221.0,142.0 L221.5,142.0 L222.1,142.0 L222.6,141.9 L223.2,141.9 L223.7,141.9 L224.3,141.8 L224.8,141.8 L225.4,141.8 L225.9,141.7 L226.5,141.7 L227.0,141.7 L227.6,141.6 L228.1,141.6 L228.7,141.5 L229.2,141.5 L229.8,141.4 L230.3,141.4 L230.9,141.3 L231.4,141.3 L232.0,141.2 L232.5,141.2 L233.1,141.1 L233.6,141.0 L234.2,141.0 L234.7,140.9 L235.3,140.9 L235.8,140.9 L236.4,140.9 L236.9,140.9 L237.5,140.8 L238.0,140.8 L238.6,140.8 L239.1,140.8 L239.6,140.8 L240.2,140.7 L240.7,140.7 L241.3,140.7 L241.8,140.7 L242.4,140.7 L242.9,140.7 L243.5,140.7 L244.0,140.7 L244.6,140.7 L245.1,140.7 L245.7,140.7 L246.2,140.8 L246.8,140.8 L247.3,140.8 L247.9,140.8 L248.4,140.9 L249.0,140.9 L249.5,140.9 L250.1,140.9 L250.6,141.0 L251.2,141.0 L251.7,141.0 L252.3,141.1 L252.8,141.1 L253.4,141.1 L253.9,141.2 L254.5,141.2 L255.0,141.3 L255.6,141.3 L256.1,141.4 L256.7,141.5 L257.2,141.6 L257.8,141.8 L258.3,141.9 L258.9,142.0 L259.4,142.2 L259.9,142.3 L260.5,142.5 L261.0,142.7 L261.6,142.8 L262.1,142.9 L262.7,142.9 L263.2,143.0 L263.8,143.0 L264.3,143.0 L264.9,143.0 L265.4,143.1 L266.0,143.1 L266.5,143.1 L267.1,143.1 L267.6,143.1 L268.2,143.2 L268.7,143.2 L269.3,143.2 L269.8,143.2 L270.4,143.3 L270.9,143.3 L271.5,143.3 L272.0,143.3 L272.6,143.3 L273.1,143.3 L273.7,143.3 L274.2,143.2 L274.8,143.2 L275.3,143.1 L275.9,143.1 L276.4,143.0 L277.0,143.0 L277.5,142.9 L278.1,142.9 L278.6,142.8 L279.2,142.8 L279.7,142.8 L280.2,142.7 L280.8,142.7 L281.3,142.7 L281.9,142.7 L282.4,142.6 L283.0,142.6 L283.5,142.5 L284.1,142.5 L284.6,142.4 L285.2,142.4 L285.7,142.3 L286.3,142.2 L286.8,142.1 L287.4,142.0 L287.9,141.9 L288.5,141.8 L289.0,141.6 L289.6,141.5 L290.1,141.3 L290.7,141.1 L291.2,140.9 L291.8,140.7 L292.3,140.5 L292.9,140.3 L293.4,140.0 L294.0,139.7 L294.5,139.3 L295.1,139.0 L295.6,138.5 L296.2,138.1 L296.7,137.6 L297.3,137.2 L297.8,136.7 L298.4,136.2 L298.9,135.6 L299.5,135.0 L300.0,134.3 L300.5,133.7 L301.1,133.0 L301.6,132.3 L302.2,131.6 L302.7,130.9 L303.3,130.3 L303.8,129.8 L304.4,129.2 L304.9,128.6 L305.5,128.1 L306.0,127.6 L306.6,127.1 L307.1,126.6 L307.7,126.2 L308.2,125.9 L308.8,125.5 L309.3,125.2 L309.9,124.9 L310.4,124.7 L311.0,124.4 L311.5,124.1 L312.1,123.9 L312.6,123.6 L313.2,123.4 L313.7,123.1 L314.3,122.9 L314.8,122.6 L315.4,122.4 L315.9,122.1 L316.5,121.9 L317.0,121.7 L317.6,121.5 L318.1,121.3 L318.7,121.1 L319.2,120.9 L319.8,120.7 L320.3,120.6 L320.8,120.4 L321.4,120.2 L321.9,120.1 L322.5,120.0 L323.0,119.8 L323.6,119.7 L324.1,119.6 L324.7,119.5 L325.2,119.4 L325.8,119.3 L326.3,119.2 L326.9,119.1 L327.4,119.0 L328.0,118.9 L328.5,118.8 L329.1,118.7 L329.6,118.7 L330.2,118.6 L330.7,118.5 L331.3,118.5 L331.8,118.4 L332.4,118.4 L332.9,118.3 L333.5,118.3 L334.0,118.2 L334.6,118.2 L335.1,118.1 L335.7,118.1 L336.2,118.0 L336.8,118.0 L337.3,118.0 L337.9,117.9 L338.4,117.9 L339.0,117.9 L339.5,117.8 L340.1,117.8 L340.6,117.8" fill="none" stroke="#7080ff" stroke-width="0.65" stroke-dasharray="9 2.5"/>
<path d="M198.5,142.6h0M206.8,142.6h0M218.0,142.2h0M229.2,141.5h0M235.7,140.9h0M243.9,140.7h0M249.4,140.9h0M255.1,141.3h0M259.3,142.2h0M261.7,142.8h0M263.7,143.0h0M266.3,143.1h0M272.8,143.3h0M277.5,142.7h0M292.3,141.0h0M303.5,129.2h0M340.6,117.8h0" fill="none" stroke="#0a0aee" stroke-width="3.3" stroke-linecap="round"/>
<path d="M198.5,86.3 L199.0,86.3 L199.6,86.3 L200.1,86.3 L200.7,86.3 L201.2,86.3 L201.8,86.3 L202.3,86.4 L202.9,86.4 L203.4,86.4 L204.0,86.4 L204.5,86.4 L205.1,86.4 L205.6,86.5 L206.2,86.5 L206.7,86.5 L207.3,86.5 L207.8,86.5 L208.4,86.6 L208.9,86.6 L209.5,86.6 L210.0,86.7 L210.6,86.7 L211.1,86.8 L211.7,86.8 L212.2,86.9 L212.8,86.9 L213.3,87.0 L213.9,87.0 L214.4,87.1 L215.0,87.1 L215.5,87.2 L216.1,87.2 L216.6,87.3 L217.2,87.3 L217.7,87.4 L218.3,87.4 L218.8,87.5 L219.3,87.5 L219.9,87.6 L220.4,87.7 L221.0,87.7 L221.5,87.8 L222.1,87.9 L222.6,87.9 L223.2,88.0 L223.7,88.1 L224.3,88.1 L224.8,88.2 L225.4,88.3 L225.9,88.3 L226.5,88.4 L227.0,88.5 L227.6,88.5 L228.1,88.6 L228.7,88.7 L229.2,88.7 L229.8,88.8 L230.3,88.8 L230.9,88.9 L231.4,89.0 L232.0,89.0 L232.5,89.1 L233.1,89.2 L233.6,89.2 L234.2,89.3 L234.7,89.3 L235.3,89.3 L235.8,89.3 L236.4,89.3 L236.9,89.3 L237.5,89.3 L238.0,89.2 L238.6,89.2 L239.1,89.2 L239.6,89.1 L240.2,89.1 L240.7,89.0 L241.3,89.0 L241.8,88.9 L242.4,88.9 L242.9,88.8 L243.5,88.8 L244.0,88.7 L244.6,88.6 L245.1,88.5 L245.7,88.3 L246.2,88.1 L246.8,87.9 L247.3,87.7 L247.9,87.5 L248.4,87.3 L249.0,87.1 L249.5,86.9 L250.1,86.6 L250.6,86.4 L251.2,86.2 L251.7,86.0 L252.3,85.7 L252.8,85.5 L253.4,85.2 L253.9,84.9 L254.5,84.6 L255.0,84.3 L255.6,84.0 L256.1,83.5 L256.7,83.1 L257.2,82.6 L257.8,82.0 L258.3,81.4 L258.9,80.9 L259.4,80.3 L259.9,79.7 L260.5,79.1 L261.0,78.4 L261.6,77.9 L262.1,77.5 L262.7,77.2 L263.2,77.0 L263.8,76.7 L264.3,76.5 L264.9,76.3 L265.4,76.2 L266.0,76.1 L266.5,76.0 L267.1,75.9 L267.6,75.9 L268.2,75.9 L268.7,75.8 L269.3,75.8 L269.8,75.8 L270.4,75.7 L270.9,75.7 L271.5,75.7 L272.0,75.7 L272.6,75.7 L273.1,75.7 L273.7,75.8 L274.2,76.0 L274.8,76.2 L275.3,76.4 L275.9,76.7 L276.4,77.0 L277.0,77.3 L277.5,77.6 L278.1,77.8 L278.6,78.0 L279.2,78.3 L279.7,78.5 L280.2,78.7 L280.8,78.9 L281.3,79.2 L281.9,79.4 L282.4,79.7 L283.0,80.0 L283.5,80.3 L284.1,80.6 L284.6,81.0 L285.2,81.4 L285.7,81.7 L286.3,82.1 L286.8,82.6 L287.4,83.0 L287.9,83.4 L288.5,83.9 L289.0,84.4 L289.6,84.9 L290.1,85.4 L290.7,86.0 L291.2,86.7 L291.8,87.4 L292.3,88.2 L292.9,89.0 L293.4,90.0 L294.0,90.9 L294.5,91.9 L295.1,93.0 L295.6,94.0 L296.2,95.1 L296.7,96.2 L297.3,97.4 L297.8,98.5 L298.4,99.7 L298.9,100.9 L299.5,102.0 L300.0,103.2 L300.5,104.4 L301.1,105.6 L301.6,106.9 L302.2,108.3 L302.7,109.9 L303.3,111.5 L303.8,113.1 L304.4,114.5 L304.9,115.9 L305.5,117.2 L306.0,118.5 L306.6,119.7 L307.1,120.8 L307.7,121.8 L308.2,122.8 L308.8,123.7 L309.3,124.6 L309.9,125.4 L310.4,126.2 L311.0,127.0 L311.5,127.7 L312.1,128.4 L312.6,129.1 L313.2,129.7 L313.7,130.3 L314.3,130.9 L314.8,131.5 L315.4,132.1 L315.9,132.6 L316.5,133.1 L317.0,133.6 L317.6,134.1 L318.1,134.6 L318.7,135.1 L319.2,135.5 L319.8,135.9 L320.3,136.4 L320.8,136.7 L321.4,137.1 L321.9,137.5 L322.5,137.8 L323.0,138.1 L323.6,138.4 L324.1,138.7 L324.7,139.0 L325.2,139.3 L325.8,139.6 L326.3,139.9 L326.9,140.1 L327.4,140.4 L328.0,140.6 L328.5,140.9 L329.1,141.1 L329.6,141.3 L330.2,141.5 L330.7,141.6 L331.3,141.8 L331.8,142.0 L332.4,142.2 L332.9,142.3 L333.5,142.5 L334.0,142.6 L334.6,142.8 L335.1,142.9 L335.7,143.1 L336.2,143.2 L336.8,143.3 L337.3,143.5 L337.9,143.6 L338.4,143.7 L339.0,143.8 L339.5,143.9 L340.1,143.9 L340.6,144.0" fill="none" stroke="#5cae6a" stroke-width="0.65" stroke-dasharray="4 2 1.2 2"/>
<path d="M198.5,86.3h0M206.8,86.5h0M218.0,87.4h0M229.2,88.7h0M235.7,89.3h0M243.9,88.7h0M249.4,86.9h0M255.1,84.2h0M259.3,80.1h0M261.7,77.8h0M263.7,76.6h0M266.3,76.0h0M272.8,75.7h0M277.5,78.0h0M292.3,83.3h0M303.5,116.8h0M340.6,144.1h0" fill="none" stroke="#0a6e1e" stroke-width="3.3" stroke-linecap="round"/>
<path d="M198.5,99.8 L199.0,99.8 L199.6,99.7 L200.1,99.7 L200.7,99.7 L201.2,99.7 L201.8,99.6 L202.3,99.6 L202.9,99.6 L203.4,99.5 L204.0,99.5 L204.5,99.5 L205.1,99.4 L205.6,99.4 L206.2,99.3 L206.7,99.3 L207.3,99.3 L207.8,99.2 L208.4,99.2 L208.9,99.1 L209.5,99.1 L210.0,99.0 L210.6,99.0 L211.1,98.9 L211.7,98.9 L212.2,98.8 L212.8,98.8 L213.3,98.7 L213.9,98.7 L214.4,98.6 L215.0,98.6 L215.5,98.5 L216.1,98.5 L216.6,98.4 L217.2,98.4 L217.7,98.3 L218.3,98.3 L218.8,98.2 L219.3,98.2 L219.9,98.1 L220.4,98.0 L221.0,98.0 L221.5,97.9 L222.1,97.9 L222.6,97.8 L223.2,97.8 L223.7,97.7 L224.3,97.6 L224.8,97.6 L225.4,97.5 L225.9,97.5 L226.5,97.4 L227.0,97.4 L227.6,97.3 L228.1,97.3 L228.7,97.2 L229.2,97.2 L229.8,97.1 L230.3,97.1 L230.9,97.1 L231.4,97.0 L232.0,97.0 L232.5,96.9 L233.1,96.9 L233.6,96.9 L234.2,96.8 L234.7,96.8 L235.3,96.8 L235.8,96.8 L236.4,96.8 L236.9,96.8 L237.5,96.8 L238.0,96.8 L238.6,96.9 L239.1,96.9 L239.6,96.9 L240.2,96.9 L240.7,97.0 L241.3,97.0 L241.8,97.0 L242.4,97.1 L242.9,97.1 L243.5,97.2 L244.0,97.2 L244.6,97.3 L245.1,97.4 L245.7,97.5 L246.2,97.6 L246.8,97.8 L247.3,97.9 L247.9,98.1 L248.4,98.2 L249.0,98.4 L249.5,98.5 L250.1,98.7 L250.6,98.8 L251.2,98.9 L251.7,99.0 L252.3,99.2 L252.8,99.3 L253.4,99.5 L253.9,99.6 L254.5,99.8 L255.0,99.9 L255.6,100.1 L256.1,100.4 L256.7,100.6 L257.2,100.9 L257.8,101.2 L258.3,101.4 L258.9,101.7 L259.4,101.9 L259.9,102.1 L260.5,102.4 L261.0,102.6 L261.6,102.8 L262.1,103.0 L262.7,103.1 L263.2,103.1 L263.8,103.1 L264.3,103.1 L264.9,103.0 L265.4,103.0 L266.0,102.9 L266.5,102.9 L267.1,102.8 L267.6,102.7 L268.2,102.5 L268.7,102.3 L269.3,102.1 L269.8,101.9 L270.4,101.7 L270.9,101.4 L271.5,101.1 L272.0,100.9 L272.6,100.6 L273.1,100.3 L273.7,100.0 L274.2,99.7 L274.8,99.4 L275.3,99.0 L275.9,98.6 L276.4,98.3 L277.0,97.9 L277.5,97.5 L278.1,97.1 L278.6,96.8 L279.2,96.4 L279.7,96.0 L280.2,95.6 L280.8,95.2 L281.3,94.8 L281.9,94.4 L282.4,94.0 L283.0,93.6 L283.5,93.2 L284.1,92.8 L284.6,92.3 L285.2,91.9 L285.7,91.5 L286.3,91.0 L286.8,90.5 L287.4,90.1 L287.9,89.6 L288.5,89.1 L289.0,88.6 L289.6,88.1 L290.1,87.6 L290.7,87.1 L291.2,86.5 L291.8,85.8 L292.3,85.1 L292.9,84.3 L293.4,83.3 L294.0,82.2 L294.5,81.0 L295.1,79.6 L295.6,78.3 L296.2,76.9 L296.7,75.5 L297.3,74.0 L297.8,72.3 L298.4,70.7 L298.9,68.9 L299.5,67.2 L300.0,65.5 L300.5,63.8 L301.1,62.0 L301.6,60.1 L302.2,58.3 L302.7,56.7 L303.3,55.2 L303.8,54.0 L304.4,52.9 L304.9,51.8 L305.5,50.9 L306.0,50.0 L306.6,49.1 L307.1,48.3 L307.7,47.6 L308.2,46.9 L308.8,46.3 L309.3,45.7 L309.9,45.1 L310.4,44.5 L311.0,44.0 L311.5,43.5 L312.1,43.0 L312.6,42.5 L313.2,42.1 L313.7,41.6 L314.3,41.2 L314.8,40.8 L315.4,40.5 L315.9,40.1 L316.5,39.7 L317.0,39.4 L317.6,39.1 L318.1,38.7 L318.7,38.4 L319.2,38.1 L319.8,37.8 L320.3,37.6 L320.8,37.3 L321.4,37.0 L321.9,36.8 L322.5,36.5 L323.0,36.3 L323.6,36.0 L324.1,35.8 L324.7,35.6 L325.2,35.4 L325.8,35.2 L326.3,35.0 L326.9,34.8 L327.4,34.6 L328.0,34.4 L328.5,34.3 L329.1,34.1 L329.6,33.9 L330.2,33.8 L330.7,33.6 L331.3,33.5 L331.8,33.4 L332.4,33.2 L332.9,33.1 L333.5,33.0 L334.0,32.9 L334.6,32.8 L335.1,32.7 L335.7,32.6 L336.2,32.5 L336.8,32.4 L337.3,32.4 L337.9,32.3 L338.4,32.2 L339.0,32.2 L339.5,32.1 L340.1,32.0 L340.6,32.0" fill="none" stroke="#ff6a6a" stroke-width="0.65"/>
<path d="M198.5,99.8h0M206.8,99.3h0M218.0,98.3h0M229.2,97.2h0M235.7,96.7h0M243.9,97.2h0M249.4,98.7h0M255.1,99.9h0M259.3,102.3h0M261.7,103.1h0M263.7,103.4h0M266.3,102.8h0M272.8,101.7h0M277.5,95.5h0M292.3,88.1h0M303.5,53.7h0M340.6,32.6h0" fill="none" stroke="#ea0c0c" stroke-width="3.3" stroke-linecap="round"/>
<rect x="192.0" y="31.4" width="89.4" height="35.8" fill="#fff" stroke="#c2c2c2" stroke-width="0.75"/>
<path d="M195.2,40.1H209.4" stroke="#ff6a6a" stroke-width="0.45"/>
<path d="M202.3,40.1h0" stroke="#ea0c0c" stroke-width="3.1" stroke-linecap="round"/>
<path d="M195.2,57.2H209.4" stroke="#7080ff" stroke-width="0.45" stroke-dasharray="9 2.5"/>
<path d="M202.3,57.2h0" stroke="#0a0aee" stroke-width="3.1" stroke-linecap="round"/>
<path d="M245.2,40.1H259.6" stroke="#5cae6a" stroke-width="0.45" stroke-dasharray="4 2 1.2 2"/>
<path d="M252.4,40.1h0" stroke="#0a6e1e" stroke-width="3.1" stroke-linecap="round"/>
<path d="M245.2,57.2H259.6" stroke="#9a9a9a" stroke-width="0.45" stroke-dasharray="1.2 2.2"/>
<path d="M252.4,57.2h0" stroke="#101010" stroke-width="3.1" stroke-linecap="round"/>
</g>
<g id="labels" opacity="0.999">
<text x="211.0" y="45.2" font-size="13.5" fill="#e00000">-<tspan font-style="italic">t</tspan></text>
<text x="211.0" y="62.3" font-size="13.5" fill="#0a0aee">-<tspan font-style="italic">v</tspan></text>
<text x="261.0" y="45.2" font-size="13.5" fill="#0a6e1e">1-<tspan font-style="italic">u</tspan></text>
<text x="260.6" y="62.3" font-size="13.5" fill="#151515">-<tspan font-style="italic">w</tspan></text>
<text transform="scale(1.04,1)" x="66.5" y="266.3" font-size="17.4" text-anchor="end" fill="#111">-7</text>
<text transform="scale(1.04,1)" x="66.5" y="235.8" font-size="17.4" text-anchor="end" fill="#111">-6</text>
<text transform="scale(1.04,1)" x="66.5" y="205.2" font-size="17.4" text-anchor="end" fill="#111">-5</text>
<text transform="scale(1.04,1)" x="66.5" y="174.7" font-size="17.4" text-anchor="end" fill="#111">-4</text>
<text transform="scale(1.04,1)" x="66.5" y="144.1" font-size="17.4" text-anchor="end" fill="#111">-3</text>
<text transform="scale(1.04,1)" x="66.5" y="113.5" font-size="17.4" text-anchor="end" fill="#111">-2</text>
<text transform="scale(1.04,1)" x="66.5" y="83.0" font-size="17.4" text-anchor="end" fill="#111">-1</text>
<text transform="scale(1.04,1)" x="66.5" y="52.5" font-size="17.4" text-anchor="end" fill="#111">0</text>
<text transform="scale(1.04,1)" x="66.5" y="21.9" font-size="17.4" text-anchor="end" fill="#111">1</text>
<text transform="scale(0.95,1)" x="88.4" y="285.8" font-size="18.6" text-anchor="middle" fill="#111">0</text>
<text transform="scale(0.95,1)" x="145.1" y="285.8" font-size="18.6" text-anchor="middle" fill="#111">2</text>
<text transform="scale(0.95,1)" x="201.7" y="285.8" font-size="18.6" text-anchor="middle" fill="#111">4</text>
<text transform="scale(0.95,1)" x="258.3" y="285.8" font-size="18.6" text-anchor="middle" fill="#111">6</text>
<text transform="scale(0.95,1)" x="314.9" y="285.8" font-size="18.6" text-anchor="middle" fill="#111">8</text>
<text transform="scale(0.95,1)" x="371.6" y="285.8" font-size="18.6" text-anchor="middle" fill="#111">10</text>
<text transform="translate(33.6,136.4) rotate(-90)" font-size="18.2" text-anchor="middle" fill="#111">ln(y/a)</text>
<text transform="translate(396.0,88.8) rotate(90)" font-size="18.2" text-anchor="middle" fill="#111">y/a</text>
<text x="208.3" y="303.6" font-size="18.5" fill="#111">χ<tspan font-size="11.4" dx="1" dy="8.2">g</tspan></text>
<text x="360.3" y="56.5" font-size="18.3" fill="#111"><tspan dx="1">1</tspan></text>
<text x="360.3" y="129.1" font-size="18.3" fill="#111">0.1</text>
<text x="360.3" y="199.5" font-size="18.3" fill="#111">0.01</text>
<text transform="translate(361.6,262.5) scale(0.86,1)" font-size="18.6" fill="#111">10<tspan font-size="14" dy="-9.2">-3</tspan></text>
<path d="M344.9,51.3h5.7M344.9,123.2h5.7M344.9,192.2h5.7" stroke="#c6c6c6" stroke-width="0.9"/>
<text x="93.5" y="255.4" font-size="10.2" fill="#111">b/a =</text>
<text transform="scale(0.93,1)" y="256.5" font-size="11" fill="#111"><tspan x="136.1">1</tspan><tspan x="147.4">0.2</tspan><tspan x="163.9">0.1</tspan><tspan x="181.8">0.05</tspan><tspan x="204.2">0.025</tspan><tspan x="232.4">0.01</tspan><tspan x="254.7">0.005</tspan><tspan x="286.3">0.0025</tspan><tspan x="322.8">0.001</tspan></text>
<text x="183.5" y="33.7" font-size="14.3" text-anchor="end" fill="#111">10</text>
<text x="183.5" y="56.2" font-size="14.3" text-anchor="end" fill="#111">8</text>
<text x="183.5" y="78.7" font-size="14.3" text-anchor="end" fill="#111">6</text>
<text x="183.5" y="101.2" font-size="14.3" text-anchor="end" fill="#111">4</text>
<text x="183.5" y="123.7" font-size="14.3" text-anchor="end" fill="#111">2</text>
<text x="183.5" y="146.2" font-size="14.3" text-anchor="end" fill="#111">0</text>
<text x="183.5" y="168.7" font-size="14.3" text-anchor="end" fill="#111">-2</text>
<text x="183.8" y="181.9" font-size="13.5" fill="#111">10<tspan font-size="9" dy="-5.4">-3</tspan></text>
<text x="222.0" y="181.9" font-size="13.5" fill="#111">10<tspan font-size="9" dy="-5.4">-2</tspan></text>
<text x="259.7" y="181.5" font-size="14.3" fill="#111">0.1</text>
<text x="301.6" y="181.5" font-size="14.3" fill="#111">1</text>
<text x="335.2" y="181.4" font-size="14.3" fill="#111">10</text>
<text x="242.8" y="190.8" font-size="8.6" fill="#111">10<tspan font-size="13.3" dy="5.4">log(b/a)</tspan></text>
</g>
</svg>
</body></html>
